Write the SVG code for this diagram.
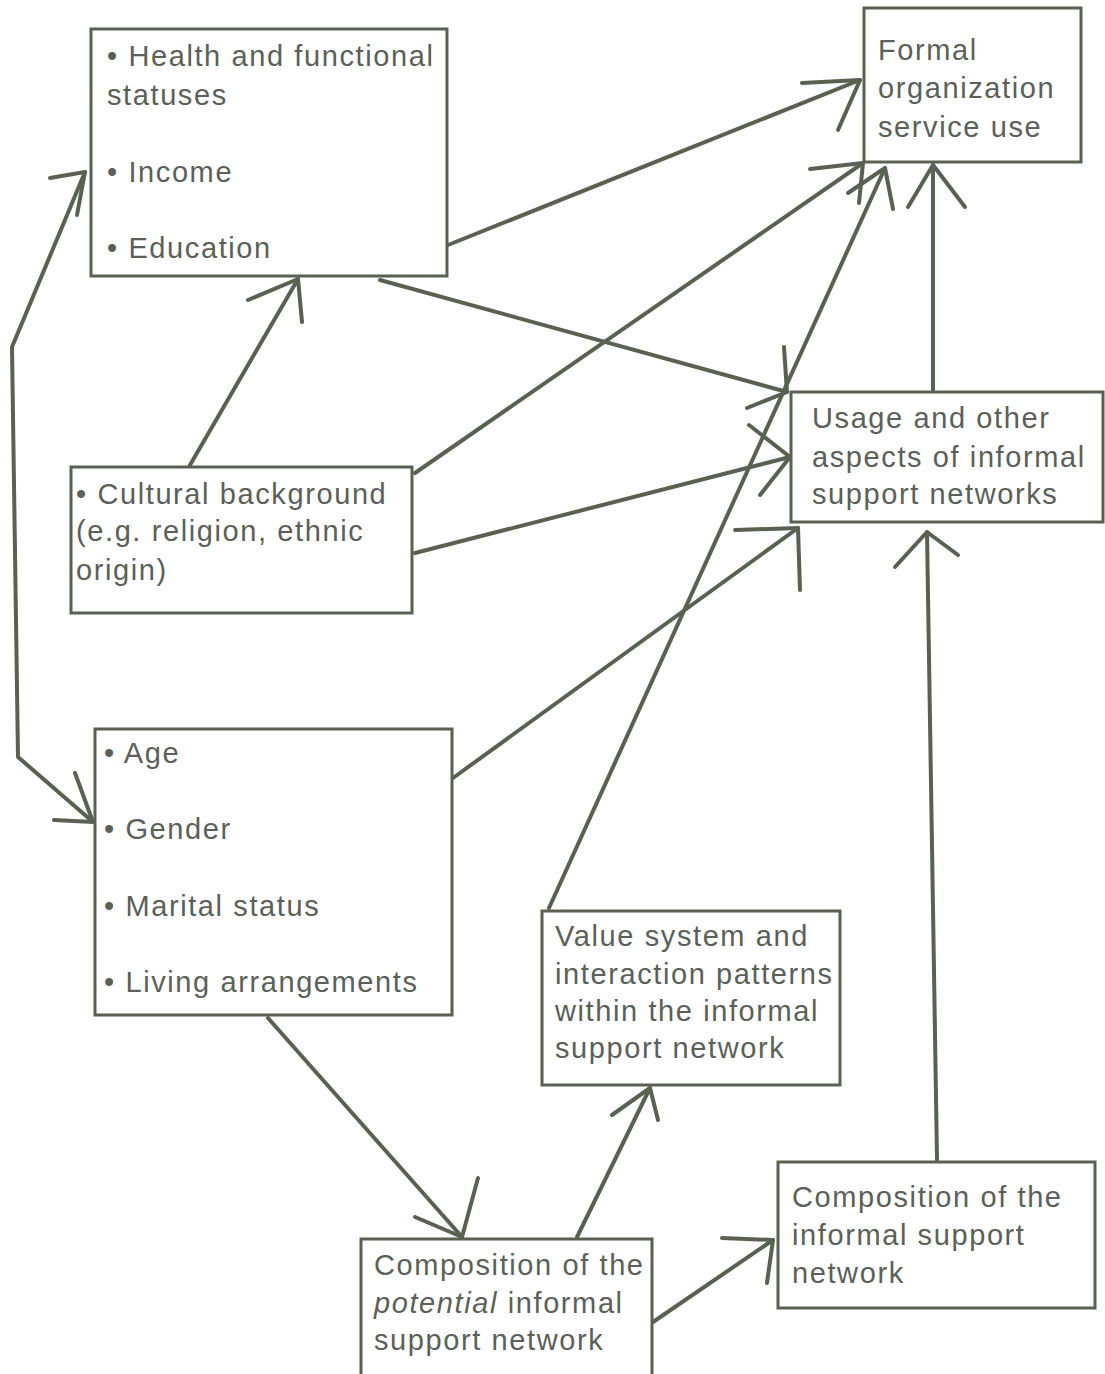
<svg xmlns="http://www.w3.org/2000/svg" width="1105" height="1374" viewBox="0 0 1105 1374">
<style>
.box{fill:#fff;stroke:#5a6152;stroke-width:3}
.t{font-family:"Liberation Sans",Arial,Helvetica,sans-serif;font-size:29px;letter-spacing:1.6px;fill:#5b6058}
.c{fill:none;stroke:#5a6152;stroke-width:4;stroke-linecap:round;stroke-linejoin:round}
</style>
<rect width="1105" height="1374" fill="#fff"/>
<g id="connectors" class="c">
<path d="M85,172 L12,347 L18,757 L93,822"/>
<path d="M50,178 L85,172 L77,215"/>
<path d="M54,820 L93,822 L75,773"/>
<path d="M448,245 L860,80"/>
<path d="M802,83 L860,80 L838,130"/>
<path d="M380,280 L787,392"/>
<path d="M747,408 L787,392 L784,347"/>
<path d="M190,465 L298,279"/>
<path d="M248,300 L298,279 L302,322"/>
<path d="M415,473 L863,163"/>
<path d="M810,169 L863,163 L859,203"/>
<path d="M415,553 L790,457"/>
<path d="M749,425 L790,457 L760,495"/>
<path d="M453,778 L798,528"/>
<path d="M735,530 L798,528 L800,590"/>
<path d="M549,908 L885,168"/>
<path d="M848,193 L885,168 L893,209"/>
<path d="M933,390 L933,165"/>
<path d="M908,207 L933,165 L965,207"/>
<path d="M268,1018 L462,1237"/>
<path d="M415,1217 L462,1237 L478,1178"/>
<path d="M577,1237 L650,1088"/>
<path d="M612,1115 L650,1088 L658,1120"/>
<path d="M653,1322 L773,1240"/>
<path d="M722,1238 L773,1240 L767,1283"/>
<path d="M937,1160 L927,532"/>
<path d="M895,567 L927,532 L958,555"/>
</g>
<g id="health">
<rect class="box" x="91" y="29" width="356" height="247"/>
<text class="t" x="107" y="66">• Health and functional</text>
<text class="t" x="107" y="105">statuses</text>
<text class="t" x="107" y="182">• Income</text>
<text class="t" x="107" y="258">• Education</text>
</g>
<g id="formal">
<rect class="box" x="864" y="8" width="217" height="154"/>
<text class="t" x="878" y="60">Formal</text>
<text class="t" x="878" y="98">organization</text>
<text class="t" x="878" y="137">service use</text>
</g>
<g id="usage">
<rect class="box" x="791" y="392" width="312" height="130"/>
<text class="t" x="812" y="428">Usage and other</text>
<text class="t" x="812" y="467">aspects of informal</text>
<text class="t" x="812" y="504">support networks</text>
</g>
<g id="cultural">
<rect class="box" x="71" y="467" width="341" height="146"/>
<text class="t" x="76" y="504">• Cultural background</text>
<text class="t" x="76" y="541">(e.g. religion, ethnic</text>
<text class="t" x="76" y="580">origin)</text>
</g>
<g id="age">
<rect class="box" x="95" y="729" width="357" height="286"/>
<text class="t" x="104" y="763">• Age</text>
<text class="t" x="104" y="839">• Gender</text>
<text class="t" x="104" y="916">• Marital status</text>
<text class="t" x="104" y="992">• Living arrangements</text>
</g>
<g id="value">
<rect class="box" x="542" y="911" width="298" height="174"/>
<text class="t" x="555" y="946">Value system and</text>
<text class="t" x="555" y="984">interaction patterns</text>
<text class="t" x="555" y="1021">within the informal</text>
<text class="t" x="555" y="1058">support network</text>
</g>
<g id="potential">
<rect class="box" x="361" y="1239" width="291" height="145"/>
<text class="t" x="374" y="1275">Composition of the</text>
<text class="t" x="374" y="1313"><tspan font-style="italic">potential</tspan> informal</text>
<text class="t" x="374" y="1350">support network</text>
</g>
<g id="composition">
<rect class="box" x="778" y="1162" width="317" height="146"/>
<text class="t" x="792" y="1207">Composition of the</text>
<text class="t" x="792" y="1245">informal support</text>
<text class="t" x="792" y="1283">network</text>
</g>
</svg>
